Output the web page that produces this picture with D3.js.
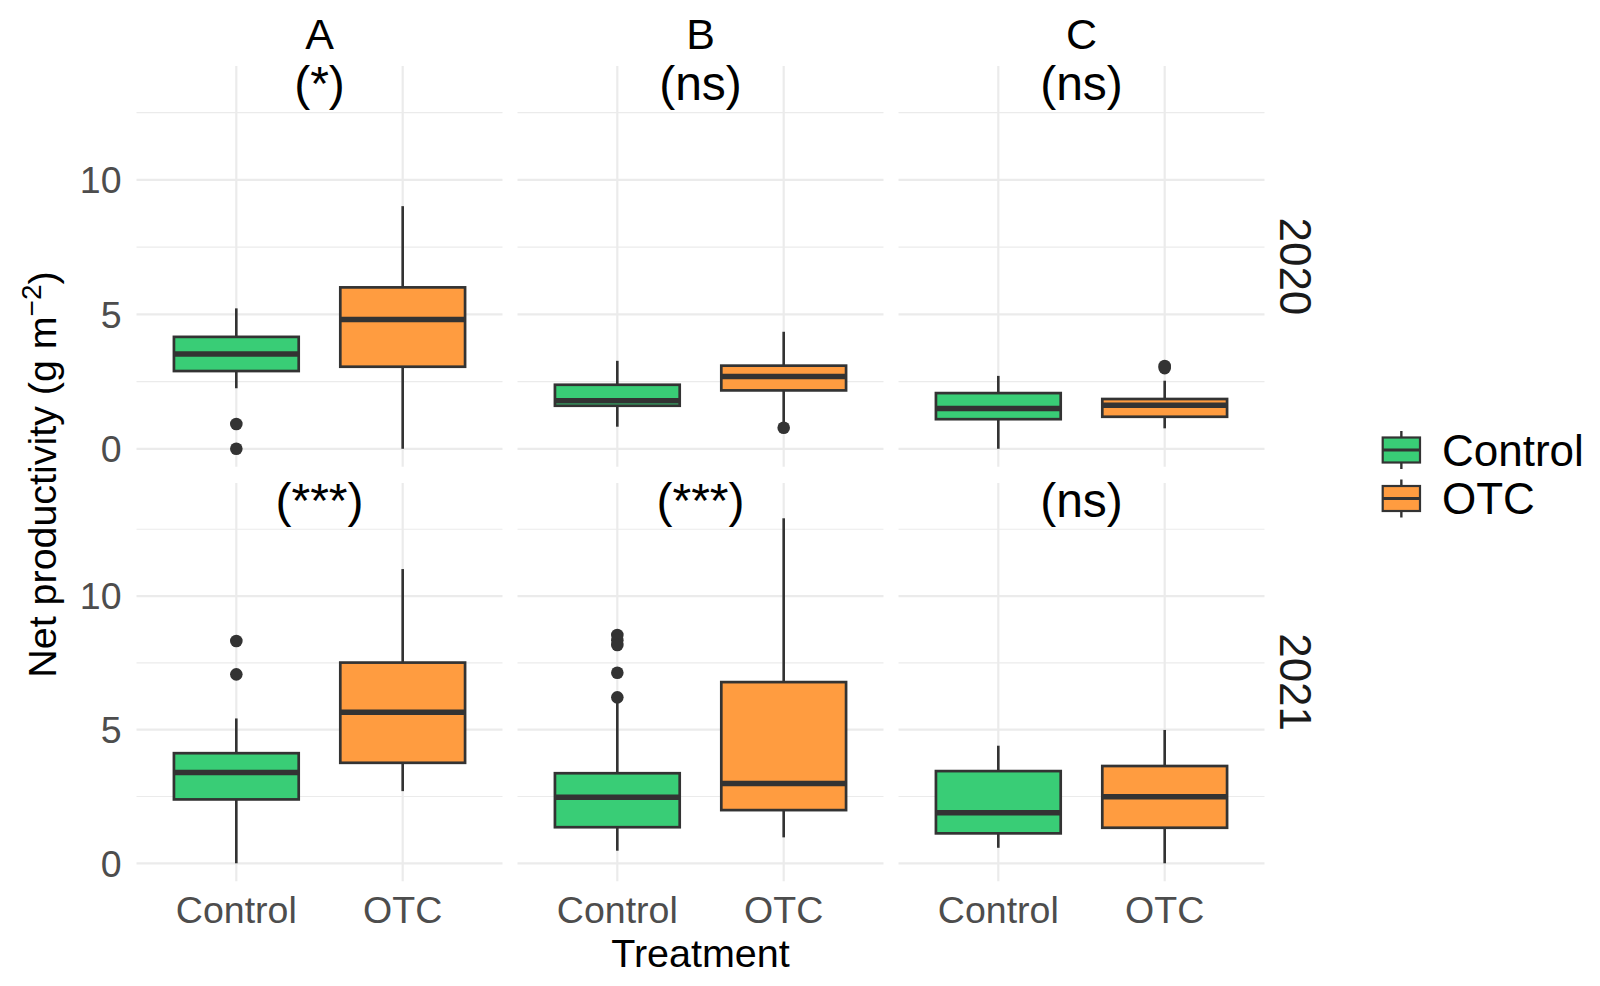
<!DOCTYPE html>
<meta charset="utf-8">
<head>
    <script src="https://d3js.org/d3.v7.min.js"></script>
</head>
<style>
    body { margin: 0; background: white; }
    text { font-family: 'Liberation Sans', Arial, sans-serif; }
</style>
<body>
<div id="my_dataviz"></div>

<script>

    // categories
    var years = ["2020", "2021"];
    var sites = ["A", "B", "C"];
    var treatments = ["Control", "OTC"];
    var yTicks = [0, 5, 10];
    var yMinor = [2.5, 7.5, 12.5];

    // significance labels, one per site
    var signif2020 = ["(*)", "(ns)", "(ns)"];
    var signif2021 = ["(***)", "(***)", "(ns)"];

    // box stats: site, treatment, lower whisker, q1, median, q3, upper whisker
    var boxes2020 = [
        ["A", "Control", 2.25, 2.89, 3.52, 4.16, 5.22],
        ["A", "OTC",     0.00, 3.05, 4.81, 6.00, 9.02],
        ["B", "Control", 0.82, 1.60, 1.79, 2.38, 3.27],
        ["B", "OTC",     0.85, 2.17, 2.69, 3.09, 4.35],
        ["C", "Control", 0.00, 1.10, 1.50, 2.07, 2.71],
        ["C", "OTC",     0.76, 1.19, 1.62, 1.85, 2.53]
    ];
    var boxes2021 = [
        ["A", "Control", 0.00, 2.39, 3.40, 4.12, 5.42],
        ["A", "OTC",     2.70, 3.76, 5.65, 7.51, 11.01],
        ["B", "Control", 0.47, 1.35, 2.47, 3.37, 6.15],
        ["B", "OTC",     0.97, 1.99, 2.99, 6.78, 12.91],
        ["C", "Control", 0.58, 1.12, 1.89, 3.45, 4.40],
        ["C", "OTC",     0.00, 1.33, 2.49, 3.64, 4.99]
    ];

    // outliers: site, treatment, value
    var outliers2020 = [
        ["A", "Control", 0.92], ["A", "Control", 0.00],
        ["B", "OTC", 0.78],
        ["C", "OTC", 3.00], ["C", "OTC", 3.08]
    ];
    var outliers2021 = [
        ["A", "Control", 8.32], ["A", "Control", 7.07],
        ["B", "Control", 8.54], ["B", "Control", 8.35], ["B", "Control", 8.17],
        ["B", "Control", 7.13], ["B", "Control", 6.21]
    ];

    var boxesByYear = [boxes2020, boxes2021];
    var outliersByYear = [outliers2020, outliers2021];
    var signifByYear = [signif2020, signif2021];

    var fillColor = d3.scaleOrdinal()
        .domain(treatments)
        .range(["#39CD76", "#FF9C40"]);

    var ink = "#333333", grid = "#EBEBEB";

    // layout
    var width = 1600, height = 986;
    var panelX0 = 136.5, panelW = 366, gapX = 15;
    var rowTops = [66, 483], rowHs = [400.8, 398.2];

    var svg = d3.select("#my_dataviz")
        .append("svg")
        .attr("width", width)
        .attr("height", height);

    var x = d3.scalePoint()
        .domain(treatments)
        .range([0, panelW])
        .padding(0.6);
    var boxW = x.step() * 0.75;

    years.forEach(function(year, r) {
        var top = rowTops[r], rowH = rowHs[r];
        var y = d3.scaleLinear()
            .domain([-0.67, 14.23])
            .range([top + rowH, top]);

        // y tick labels (left column only)
        svg.append("g")
            .selectAll("text")
            .data(yTicks)
            .enter()
            .append("text")
            .attr("x", 121.5)
            .attr("y", function(d) { return y(d) + 13.4; })
            .attr("text-anchor", "end")
            .style("font-size", "37.5px")
            .style("fill", "#4D4D4D")
            .text(function(d) { return d; });

        sites.forEach(function(site, c) {
            var left = panelX0 + c * (panelW + gapX);
            var g = svg.append("g")
                .attr("transform", "translate(" + left + ",0)");

            // grid
            g.selectAll(".minor")
                .data(yMinor)
                .enter()
                .append("line")
                .attr("x1", 0).attr("x2", panelW)
                .attr("y1", function(d) { return y(d); })
                .attr("y2", function(d) { return y(d); })
                .style("stroke", grid)
                .style("stroke-width", 1.2);
            g.selectAll(".major")
                .data(yTicks)
                .enter()
                .append("line")
                .attr("x1", 0).attr("x2", panelW)
                .attr("y1", function(d) { return y(d); })
                .attr("y2", function(d) { return y(d); })
                .style("stroke", grid)
                .style("stroke-width", 2.2);
            g.selectAll(".vgrid")
                .data(treatments)
                .enter()
                .append("line")
                .attr("x1", function(d) { return x(d); })
                .attr("x2", function(d) { return x(d); })
                .attr("y1", top).attr("y2", top + rowH)
                .style("stroke", grid)
                .style("stroke-width", 2.2);

            var bx = boxesByYear[r].filter(function(d) { return d[0] === site; });

            // whiskers
            g.selectAll(".whiskerHi")
                .data(bx)
                .enter()
                .append("line")
                .attr("x1", function(d) { return x(d[1]); })
                .attr("x2", function(d) { return x(d[1]); })
                .attr("y1", function(d) { return y(d[6]); })
                .attr("y2", function(d) { return y(d[5]); })
                .style("stroke", ink)
                .style("stroke-width", 2.6);
            g.selectAll(".whiskerLo")
                .data(bx)
                .enter()
                .append("line")
                .attr("x1", function(d) { return x(d[1]); })
                .attr("x2", function(d) { return x(d[1]); })
                .attr("y1", function(d) { return y(d[3]); })
                .attr("y2", function(d) { return y(d[2]); })
                .style("stroke", ink)
                .style("stroke-width", 2.6);

            // boxes
            g.selectAll(".box")
                .data(bx)
                .enter()
                .append("rect")
                .attr("x", function(d) { return x(d[1]) - boxW / 2; })
                .attr("width", boxW)
                .attr("y", function(d) { return y(d[5]); })
                .attr("height", function(d) { return y(d[3]) - y(d[5]); })
                .style("fill", function(d) { return fillColor(d[1]); })
                .style("stroke", ink)
                .style("stroke-width", 2.7);

            // medians
            g.selectAll(".median")
                .data(bx)
                .enter()
                .append("line")
                .attr("x1", function(d) { return x(d[1]) - boxW / 2; })
                .attr("x2", function(d) { return x(d[1]) + boxW / 2; })
                .attr("y1", function(d) { return y(d[4]); })
                .attr("y2", function(d) { return y(d[4]); })
                .style("stroke", ink)
                .style("stroke-width", 5.5);

            // outliers
            g.selectAll(".outlier")
                .data(outliersByYear[r].filter(function(d) { return d[0] === site; }))
                .enter()
                .append("circle")
                .attr("cx", function(d) { return x(d[1]); })
                .attr("cy", function(d) { return y(d[2]); })
                .attr("r", 6.3)
                .style("fill", ink);

            // significance label
            g.append("text")
                .attr("x", panelW / 2)
                .attr("y", y(12.95))
                .attr("text-anchor", "middle")
                .style("font-size", "48px")
                .style("fill", "black")
                .text(signifByYear[r][c]);

            // site strip on top row
            if (r === 0) {
                g.append("text")
                    .attr("x", panelW / 2)
                    .attr("y", 49.3)
                    .attr("text-anchor", "middle")
                    .style("font-size", "43px")
                    .style("fill", "black")
                    .text(site);
            }

            // x tick labels on bottom row
            if (r === years.length - 1) {
                g.selectAll(".xtick")
                    .data(treatments)
                    .enter()
                    .append("text")
                    .attr("x", function(d) { return x(d); })
                    .attr("y", 922.7)
                    .attr("text-anchor", "middle")
                    .style("font-size", "37.5px")
                    .style("fill", "#4D4D4D")
                    .text(function(d) { return d; });
            }
        });

        // year strip on the right
        svg.append("text")
            .attr("transform", "translate(1280," + (top + rowH / 2) + ") rotate(90)")
            .attr("text-anchor", "middle")
            .style("font-size", "44px")
            .style("fill", "#1A1A1A")
            .text(year);
    });

    // axis titles
    svg.append("text")
        .attr("x", panelX0 + (3 * panelW + 2 * gapX) / 2)
        .attr("y", 966.7)
        .attr("text-anchor", "middle")
        .style("font-size", "39.5px")
        .style("fill", "black")
        .text("Treatment");

    var yTitle = svg.append("text")
        .attr("transform", "translate(55.5," + (rowTops[1] - 8.5) + ") rotate(-90)")
        .attr("text-anchor", "middle")
        .style("font-size", "39.4px")
        .style("fill", "black");
    yTitle.append("tspan").text("Net productivity (g m");
    yTitle.append("tspan").attr("dy", -15).style("font-size", "28px").text("\u22122");
    yTitle.append("tspan").attr("dy", 15).text(")");

    // legend
    var legendY = [450, 498.5];
    var keyX = 1382.7, keyW = 37.3, keyH = 25;
    var legend = svg.append("g")
        .selectAll("g")
        .data(treatments)
        .enter()
        .append("g")
        .attr("transform", function(d, i) { return "translate(0," + legendY[i] + ")"; });
    legend.append("line")
        .attr("x1", keyX + keyW / 2).attr("x2", keyX + keyW / 2)
        .attr("y1", -19).attr("y2", 19)
        .style("stroke", ink)
        .style("stroke-width", 2.4);
    legend.append("rect")
        .attr("x", keyX).attr("y", -keyH / 2)
        .attr("width", keyW).attr("height", keyH)
        .style("fill", function(d) { return fillColor(d); })
        .style("stroke", ink)
        .style("stroke-width", 2.2);
    legend.append("line")
        .attr("x1", keyX).attr("x2", keyX + keyW)
        .attr("y1", 0).attr("y2", 0)
        .style("stroke", ink)
        .style("stroke-width", 3.2);
    legend.append("text")
        .attr("x", 1442)
        .attr("y", 15.5)
        .style("font-size", "44px")
        .style("fill", "black")
        .text(function(d) { return d; });

</script>
</body>
